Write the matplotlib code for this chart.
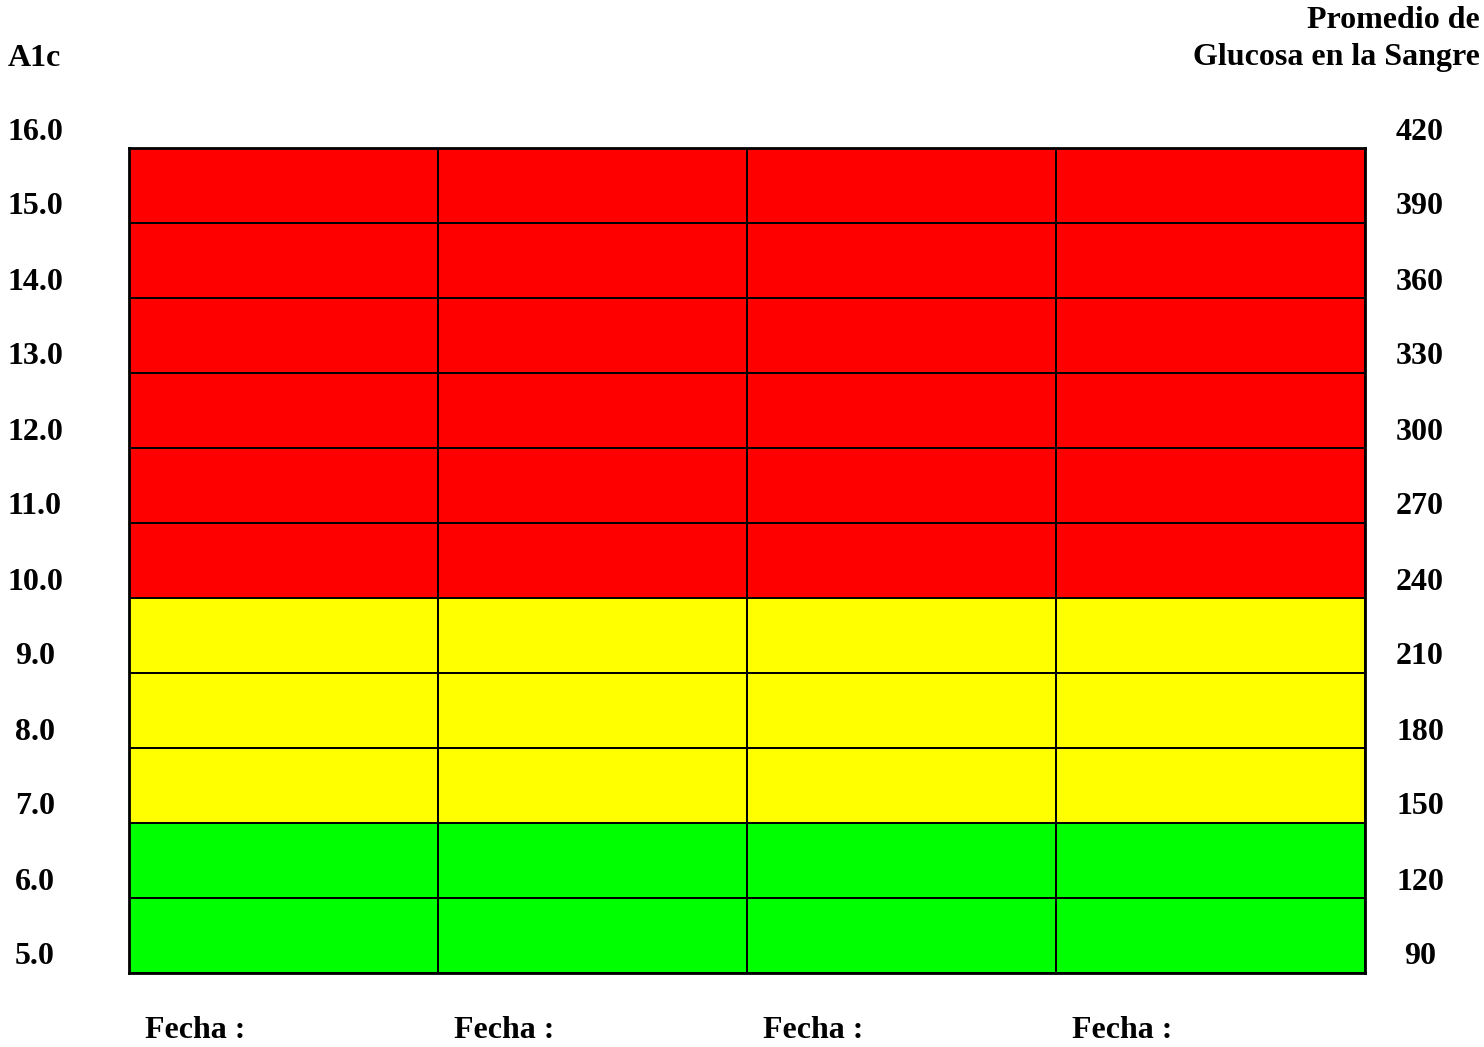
"""A1c vs average blood glucose chart with colored ranges and date columns."""
import numpy as np
import matplotlib.pyplot as plt
from matplotlib.colors import ListedColormap
from matplotlib import transforms

plt.rcParams['font.family'] = ['Liberation Serif', 'DejaVu Serif']
plt.rcParams['font.weight'] = 'bold'

A1C_LABELS = ['5.0', '6.0', '7.0', '8.0', '9.0', '10.0', '11.0', '12.0',
              '13.0', '14.0', '15.0', '16.0']
GLUCOSE_LABELS = ['90', '120', '150', '180', '210', '240', '270', '300',
                  '330', '360', '390', '420']
ROW_BANDS = [0, 0, 1, 1, 1, 2, 2, 2, 2, 2, 2]  # bottom to top: green, yellow, red
BAND_COLORS = ['#00ff00', '#ffff00', '#ff0000']
DATE_LABELS = ['Fecha :', 'Fecha :', 'Fecha :', 'Fecha :']

W, H = 1484, 1047
FS = 23
fig = plt.figure(figsize=(W / 100, H / 100), dpi=100)
ax = fig.add_axes([129 / W, (H - 973) / H, (1365 - 129) / W, (973 - 148) / H])

n_cols = len(DATE_LABELS)
n_rows = len(ROW_BANDS)
grid = np.tile(np.array(ROW_BANDS)[:, None], (1, n_cols))
ax.pcolormesh(np.arange(n_cols + 1), np.arange(n_rows + 1), grid,
              cmap=ListedColormap(BAND_COLORS), vmin=-0.5, vmax=2.5,
              edgecolors='black', linewidth=1.3)
ax.set_xlim(0, n_cols)
ax.set_ylim(0, n_rows)
ax.set_xticks([])
ax.set_yticks([])
for sp in ax.spines.values():
    sp.set_linewidth(2)

# labels sit a bit above their grid lines
shift = transforms.ScaledTranslation(0, 0.16, fig.dpi_scale_trans)
side_tr = transforms.blended_transform_factory(fig.transFigure, ax.transData) + shift
for i, lab in enumerate(A1C_LABELS):
    fig.text(35 / W, i, lab, transform=side_tr, ha='center', va='center',
             fontsize=FS, fontweight='bold')
for i, lab in enumerate(GLUCOSE_LABELS):
    fig.text(1420 / W, i, lab, transform=side_tr, ha='center', va='center',
             fontsize=FS, fontweight='bold')

date_tr = transforms.blended_transform_factory(ax.transData, fig.transFigure)
for j, lab in enumerate(DATE_LABELS):
    fig.text(j + 16 / 309, 1 - 1031 / H, lab, transform=date_tr, ha='left',
             va='center', fontsize=FS, fontweight='bold')

fig.text(8 / W, 1 - 58 / H, 'A1c', ha='left', va='center', fontsize=FS,
         fontweight='bold')
fig.text(1480 / W, 1 - 21 / H, 'Promedio de', ha='right', va='center',
         fontsize=FS, fontweight='bold')
fig.text(1480 / W, 1 - 58 / H, 'Glucosa en la Sangre', ha='right', va='center',
         fontsize=FS, fontweight='bold')

fig.savefig('out.png', dpi=100)
